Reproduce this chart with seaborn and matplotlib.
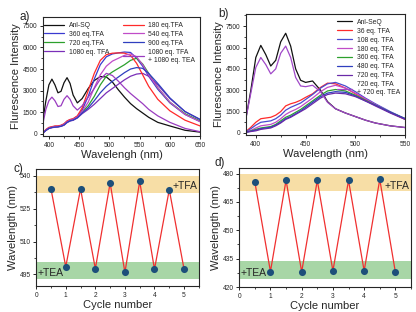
import matplotlib
matplotlib.use("Agg")
import matplotlib.pyplot as plt
from matplotlib.ticker import AutoMinorLocator, MultipleLocator
import seaborn as sns
import pandas as pd

sns.set_style("ticks")
plt.rcParams['font.family'] = ['Liberation Sans', 'DejaVu Sans']

# ---------------- panel a data ----------------
wl_a = [390, 395, 400, 405, 410, 415, 420, 425, 430, 435, 440, 447, 455, 465,
        475, 485, 495, 505, 515, 525, 535, 545, 555, 565, 580, 600, 625, 650]
a_anl = [900, 2300, 3400, 3800, 3400, 2850, 2950, 3550, 3900, 3500, 2700, 2150, 2450, 3150,
         3700, 3980, 3950, 3600, 3050, 2550, 2100, 1750, 1450, 1150, 800, 550, 250, 120]
a_180 = [50, 300, 450, 500, 550, 550, 600, 700, 900, 1000, 1050, 1250, 1800, 3000,
         4200, 5100, 5500, 5600, 5620, 5600, 5450, 4900, 4100, 3300, 2400, 1600, 950, 550]
a_360 = [50, 280, 420, 480, 520, 530, 580, 680, 870, 980, 1030, 1220, 1650, 2600,
         3800, 4800, 5350, 5550, 5620, 5680, 5650, 5250, 4700, 4000, 3100, 2150, 1350, 850]
a_540 = [50, 260, 400, 460, 500, 510, 560, 650, 840, 950, 1000, 1180, 1550, 2200,
         3200, 4100, 4700, 5050, 5250, 5450, 5550, 5350, 4800, 4100, 3200, 2200, 1350, 850]
a_720 = [50, 250, 390, 450, 480, 500, 540, 630, 820, 930, 980, 1150, 1500, 1950,
         2600, 3400, 4000, 4300, 4550, 4800, 5100, 5250, 4850, 4200, 3200, 2200, 1400, 900]
a_900 = [50, 240, 380, 440, 470, 490, 530, 620, 800, 910, 960, 1120, 1450, 1800,
         2300, 2850, 3300, 3650, 3950, 4250, 4500, 4600, 4550, 4200, 3500, 2500, 1550, 1000]
a_1080 = [50, 230, 370, 430, 460, 480, 520, 600, 780, 890, 940, 1100, 1400, 1700,
          2050, 2450, 2850, 3150, 3450, 3750, 4000, 4150, 4200, 4000, 3400, 2450, 1550, 1000]
a_tea = [700, 1700, 2300, 2550, 2300, 1900, 1950, 2400, 2650, 2400, 1950, 1650, 1950, 2550,
         3150, 3800, 4200, 4050, 3650, 3200, 2800, 2450, 2100, 1700, 1250, 800, 380, 150]

labels_a = ["Anl-SQ", "360 eq.TFA", "720 eq.TFA", "1080 eq. TFA",
            "180 eq.TFA", "540 eq.TFA", "900 eq.TFA", "1080 eq. TFA\n+ 1080 eq. TEA"]
series_a = [a_anl, a_360, a_720, a_1080, a_180, a_540, a_900, a_tea]
colors_a = ["#111111", "#3a3ad0", "#2ca02c", "#7a2fb8",
            "#ff2a2a", "#c04cc8", "#2f3fbf", "#9a3cc0"]

# ---------------- panel b data ----------------
wl_b = [390, 395, 400, 405, 410, 415, 420, 425, 430, 435, 440, 445, 450, 457,
        465, 472, 480, 490, 500, 510, 520, 535, 550]
b_anl = [1000, 3000, 5300, 6150, 5500, 4700, 5100, 6400, 7000, 6100, 4500, 3700, 3550, 3650,
         3000, 2200, 1700, 1400, 1150, 900, 700, 500, 380]
b_36 = [100, 400, 750, 1000, 1050, 1100, 1250, 1500, 1900, 2050, 2150, 2300, 2500, 2750,
        3200, 3500, 3450, 3150, 2750, 2350, 2000, 1450, 950]
b_108 = [80, 300, 550, 750, 800, 850, 1000, 1250, 1600, 1800, 1950, 2100, 2350, 2700,
         3150, 3450, 3550, 3300, 2900, 2450, 2050, 1500, 1000]
b_180 = [60, 180, 350, 500, 550, 600, 750, 1000, 1300, 1500, 1650, 1850, 2100, 2450,
         2900, 3200, 3350, 3150, 2800, 2400, 2000, 1450, 1000]
b_360 = [50, 140, 250, 350, 400, 450, 600, 850, 1100, 1250, 1450, 1650, 1900, 2250,
         2650, 2950, 3050, 2950, 2650, 2300, 1950, 1450, 1000]
b_480 = [50, 120, 200, 300, 350, 400, 550, 750, 1000, 1150, 1350, 1550, 1800, 2150,
         2550, 2800, 2900, 2850, 2600, 2250, 1950, 1450, 1000]
b_720 = [50, 100, 150, 250, 300, 350, 500, 700, 950, 1100, 1300, 1500, 1700, 2050,
         2450, 2700, 2800, 2750, 2550, 2250, 1900, 1400, 950]
b_tea = [1000, 2800, 4600, 5300, 4800, 4150, 4500, 5600, 6100, 5300, 3900, 3300, 3250, 3350,
         2900, 2150, 1700, 1400, 1150, 900, 700, 500, 380]

labels_b = ["Anl-SeQ", "36 eq. TFA", "108 eq. TFA", "180 eq. TFA", "360 eq. TFA",
            "480 eq. TFA", "720 eq. TFA", "720 eq. TFA\n+ 720 eq. TEA"]
series_b = [b_anl, b_36, b_108, b_180, b_360, b_480, b_720, b_tea]
colors_b = ["#111111", "#ff2a2a", "#4a4ad0", "#c04cc8", "#2ca02c",
            "#2f3fbf", "#6a2aa8", "#a048c8"]

# ---------------- panels c, d data ----------------
cycles = [0.5, 1, 1.5, 2, 2.5, 3, 3.5, 4, 4.5, 5]
c_wave = [534.0, 498.5, 534.0, 497.6, 536.7, 495.9, 537.4, 497.4, 533.6, 497.4]
d_wave = [475.6, 428.2, 476.5, 428.0, 476.4, 428.5, 476.4, 428.5, 476.9, 427.8]
c_tfa_band = (532.0, 540.0)
c_tea_band = (493.0, 500.6)
d_tfa_band = (470.8, 480.0)
d_tea_band = (424.5, 434.0)

fig = plt.figure(figsize=(4.16, 3.12), dpi=100)
ax_a = fig.add_axes([0.103, 0.564, 0.378, 0.381])
ax_b = fig.add_axes([0.591, 0.567, 0.383, 0.388])
ax_c = fig.add_axes([0.087, 0.083, 0.391, 0.375])
ax_d = fig.add_axes([0.575, 0.080, 0.413, 0.382])

tick_fs = 4.8
label_fs = 8

def spectra(ax, wl, series, labels, colors, ncol, hl):
    for vals, lab, col in zip(series, labels, colors):
        df = pd.DataFrame({"wl": wl, "I": vals})
        sns.lineplot(data=df, x="wl", y="I", ax=ax, color=col, lw=0.9,
                     label=lab, sort=False, estimator=None)
    ax.legend(ncol=ncol, frameon=False, fontsize=4.9, handlelength=hl,
              loc="upper right", labelspacing=0.28, columnspacing=2.0,
              borderaxespad=0.3, handletextpad=0.7)
    ax.set_ylabel("Flurescence Intensity", fontsize=label_fs, labelpad=1)
    ax.yaxis.set_major_locator(MultipleLocator(1500))
    ax.xaxis.set_major_locator(MultipleLocator(50))
    ax.xaxis.set_minor_locator(AutoMinorLocator(2))
    ax.yaxis.set_minor_locator(AutoMinorLocator(2))

spectra(ax_a, wl_a, series_a, labels_a, colors_a, 2, 3.0)
ax_a.set_xlim(390, 650)
ax_a.set_ylim(-150, 8100)
ax_a.set_xlabel("Wavelengh (nm)", fontsize=label_fs, labelpad=1)

spectra(ax_b, wl_b, series_b, labels_b, colors_b, 1, 2.3)
ax_b.set_xlim(390, 550)
ax_b.set_ylim(-150, 8350)
ax_b.set_xlabel("Wavelength (nm)", fontsize=label_fs, labelpad=1)

def cycle(ax, vals, tfa, tea, ylim, yticks, tfa_y, tea_y):
    ax.axhspan(*tfa, color="#f7dea6", lw=0, zorder=0)
    ax.axhspan(*tea, color="#a8d6a6", lw=0, zorder=0)
    df = pd.DataFrame({"cycle": cycles, "wave": vals})
    sns.lineplot(data=df, x="cycle", y="wave", ax=ax, color="#f03030", lw=0.9,
                 sort=False, estimator=None, zorder=2)
    sns.scatterplot(data=df, x="cycle", y="wave", ax=ax, color="#1d4f7a", s=26,
                    edgecolor="#1d4f7a", linewidth=0, zorder=3)
    ax.set_xlim(0, 5.5)
    ax.set_ylim(*ylim)
    ax.set_yticks(yticks)
    ax.set_xticks([0, 1, 2, 3, 4, 5])
    ax.xaxis.set_minor_locator(AutoMinorLocator(2))
    ax.yaxis.set_minor_locator(AutoMinorLocator(2))
    ax.set_xlabel("Cycle number", fontsize=label_fs, labelpad=1)
    ax.set_ylabel("Wavelength (nm)", fontsize=label_fs, labelpad=1)
    ax.text(5.45, tfa_y, "+TFA", fontsize=7.5, ha="right", va="center")
    ax.text(0.05, tea_y, "+TEA", fontsize=7.5, ha="left", va="center")

cycle(ax_c, c_wave, c_tfa_band, c_tea_band, (489.7, 543), [495, 510, 525, 540], 535.5, 495.5)
cycle(ax_d, d_wave, d_tfa_band, d_tea_band, (420, 483), [420, 435, 450, 465, 480], 473.5, 427.5)

for ax in (ax_a, ax_b, ax_c, ax_d):
    ax.tick_params(labelsize=tick_fs, length=2.5, width=0.7, pad=1.5)
    ax.tick_params(which="minor", length=1.5, width=0.6)
    for s in ax.spines.values():
        s.set_linewidth(0.8)
        s.set_visible(True)

fig.text(0.048, 0.935, "a)", fontsize=8.5)
fig.text(0.525, 0.945, "b)", fontsize=8.5)
fig.text(0.032, 0.448, "c)", fontsize=8.5)
fig.text(0.515, 0.468, "d)", fontsize=8.5)

fig.savefig("out.png", dpi=100)
